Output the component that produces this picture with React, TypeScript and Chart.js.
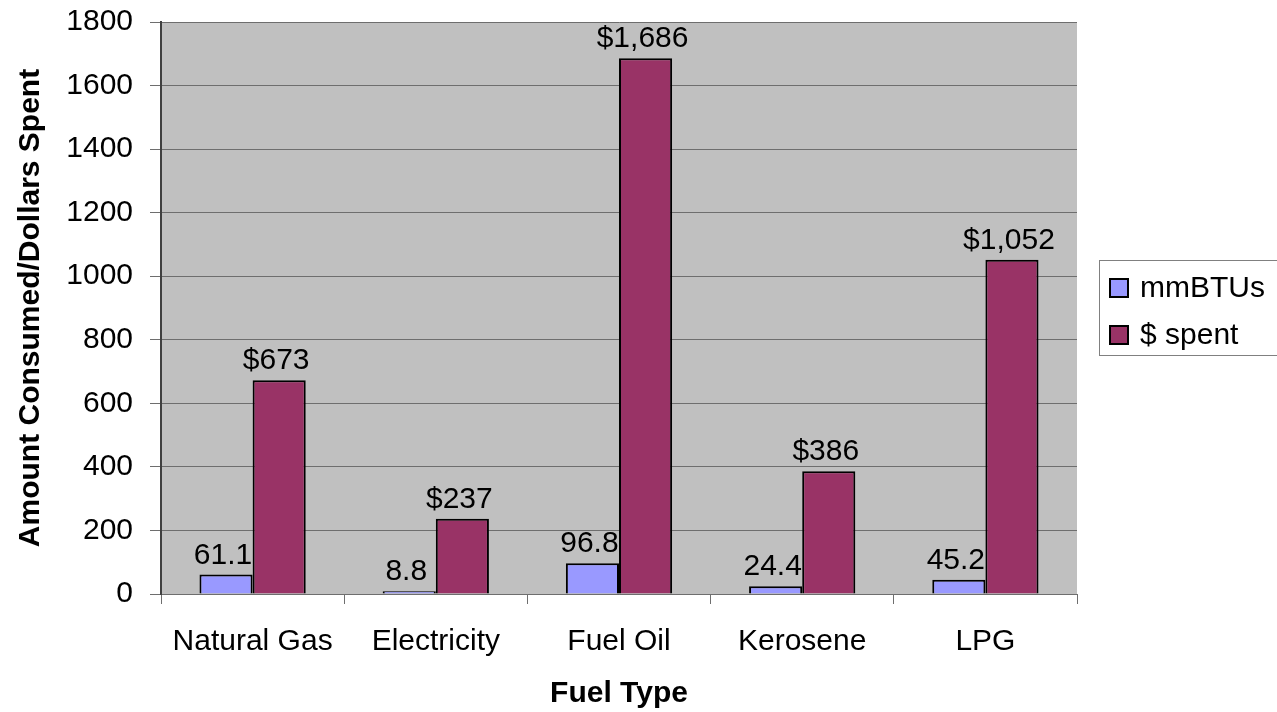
import React, { useEffect, useRef } from "react";
import { Chart, registerables } from "chart.js";

Chart.register(...registerables);

const categories = ["Natural Gas", "Electricity", "Fuel Oil", "Kerosene", "LPG"];
const mmBTUs = [61.1, 8.8, 96.8, 24.4, 45.2];
const dollarsSpent = [673, 237, 1686, 386, 1052];
const mmBTULabels = ["61.1", "8.8", "96.8", "24.4", "45.2"];
const dollarLabels = ["$673", "$237", "$1,686", "$386", "$1,052"];
const seriesNames = ["mmBTUs", "$ spent"];
const yTitle = "Amount Consumed/Dollars Spent";
const xTitle = "Fuel Type";

const FONT = "'Liberation Sans', Arial, sans-serif";
const GRID = "#6e6e6e";

const plotBg = {
  id: "plotBg",
  beforeDraw(chart: any) {
    const { ctx, chartArea } = chart;
    ctx.save();
    ctx.fillStyle = "#C0C0C0";
    ctx.fillRect(chartArea.left, chartArea.top, chartArea.right - chartArea.left, chartArea.bottom - chartArea.top);
    ctx.restore();
  },
};

const valueLabels = {
  id: "valueLabels",
  afterDatasetsDraw(chart: any) {
    const { ctx } = chart;
    const labelSets = [mmBTULabels, dollarLabels];
    ctx.save();
    ctx.font = `30px ${FONT}`;
    ctx.fillStyle = "#000";
    ctx.textAlign = "center";
    ctx.textBaseline = "alphabetic";
    chart.data.datasets.forEach((ds: any, di: number) => {
      const meta = chart.getDatasetMeta(di);
      meta.data.forEach((bar: any, i: number) => {
        ctx.fillText(labelSets[di][i], bar.x - 3, bar.y - 11);
      });
    });
    ctx.restore();
  },
};

const boxLegend = {
  id: "boxLegend",
  afterDraw(chart: any) {
    const { ctx, chartArea } = chart;
    const x0 = chartArea.right + 22;
    const y0 = 260;
    ctx.save();
    ctx.strokeStyle = "#808080";
    ctx.lineWidth = 1;
    ctx.strokeRect(x0 + 0.5, y0 + 0.5, 200, 95);
    ctx.font = `30px ${FONT}`;
    ctx.textBaseline = "alphabetic";
    ctx.textAlign = "left";
    chart.data.datasets.forEach((ds: any, i: number) => {
      const sy = y0 + 19 + i * 47;
      ctx.fillStyle = ds.backgroundColor;
      ctx.fillRect(x0 + 11, sy, 18, 18);
      ctx.strokeStyle = "#000";
      ctx.lineWidth = 2;
      ctx.strokeRect(x0 + 11, sy, 18, 18);
      ctx.fillStyle = "#000";
      ctx.fillText(ds.label, x0 + 41, sy + 18);
    });
    ctx.restore();
  },
};

export default function App() {
  const ref = useRef<HTMLCanvasElement | null>(null);
  useEffect(() => {
    if (!ref.current) return;
    const chart = new Chart(ref.current, {
      type: "bar",
      data: {
        labels: categories,
        datasets: [
          {
            label: seriesNames[0],
            data: mmBTUs,
            backgroundColor: "#9999FF",
            borderColor: "#000000",
            borderWidth: 2,
            categoryPercentage: 0.58,
            barPercentage: 1,
          },
          {
            label: seriesNames[1],
            data: dollarsSpent,
            backgroundColor: "#993366",
            borderColor: "#000000",
            borderWidth: 2,
            categoryPercentage: 0.58,
            barPercentage: 1,
          },
        ],
      },
      options: {
        animation: false,
        responsive: true,
        maintainAspectRatio: false,
        layout: { padding: { top: 22, right: 200, left: 0, bottom: 0 } },
        plugins: {
          legend: { display: false },
          tooltip: { enabled: false },
        },
        scales: {
          x: {
            grid: {
              display: true,
              drawOnChartArea: false,
              drawTicks: true,
              tickLength: 10,
              color: GRID,
              offset: true,
            },
            border: { display: true, color: GRID, width: 1 },
            ticks: {
              color: "#000",
              font: { family: FONT, size: 30 },
              padding: 20,
              maxRotation: 0,
              autoSkip: false,
            },
            title: {
              display: true,
              text: xTitle,
              color: "#000",
              font: { family: FONT, size: 30, weight: "bold" },
              padding: { top: 0, bottom: 0 },
            },
            afterFit(scale: any) {
              scale.height = 118;
              scale.paddingLeft = 0;
              scale.paddingRight = 0;
            },
          },
          y: {
            min: 0,
            max: 1800,
            grid: {
              color: GRID,
              tickLength: 11,
              drawTicks: true,
            },
            border: { display: true, color: "#404040", width: 2 },
            ticks: {
              stepSize: 200,
              color: "#000",
              font: { family: FONT, size: 30 },
              padding: 17,
              callback: (v: any) => String(v),
            },
            title: {
              display: true,
              text: yTitle,
              color: "#000",
              font: { family: FONT, size: 30, weight: "bold" },
              padding: { top: 13, bottom: 0 },
            },
            afterFit(scale: any) {
              scale.width = 161;
              scale.paddingTop = 0;
              scale.paddingBottom = 0;
            },
          },
        },
      },
      plugins: [plotBg, valueLabels, boxLegend],
    });
    return () => chart.destroy();
  }, []);
  return (
    <div style={{ position: "fixed", left: 0, top: 0, width: 1277, height: 712, background: "#fff" }}>
      <canvas ref={ref} />
    </div>
  );
}
